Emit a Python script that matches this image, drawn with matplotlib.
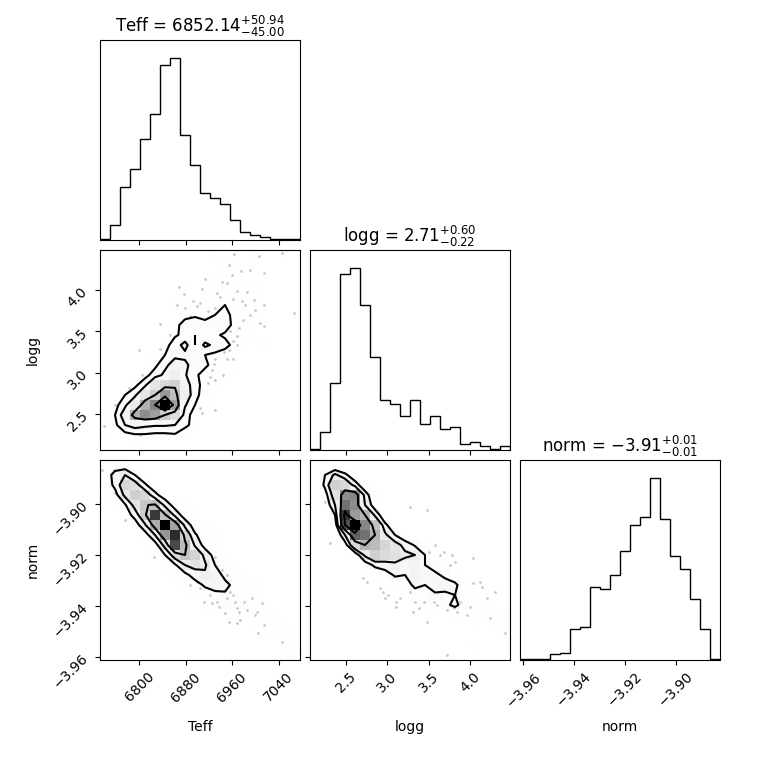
import numpy as np
import matplotlib
matplotlib.use("Agg")
import matplotlib.pyplot as plt
from matplotlib.colors import LinearSegmentedColormap
from matplotlib.ticker import FixedLocator, ScalarFormatter, NullLocator

# ---------------- data ----------------
labels = ["Teff", "logg", "norm"]
ranges = [(6732.6, 7076.7), (2.066, 4.482), (-3.9613, -3.8826)]
medians = ["6852.14", "2.71", "-3.91"]
err_lo = ["45.00", "0.22", "0.01"]
err_hi = ["50.94", "0.60", "0.01"]
ticks = [[6800, 6880, 6960, 7040], [2.5, 3.0, 3.5, 4.0], [-3.96, -3.94, -3.92, -3.90]]

# 1D histograms (20 bins over each range)
teff_hist = [2, 22, 79, 106, 151, 189, 262, 272, 157, 112, 70, 63, 54, 30, 12, 7, 5, 1, 2, 2]
logg_hist = [1, 29, 108, 286, 295, 235, 151, 81, 75, 55, 81, 42, 55, 34, 37, 10, 13, 6, 1, 7]
norm_hist = [1, 1, 1, 7, 9, 38, 41, 90, 87, 104, 134, 165, 175, 223, 173, 128, 111, 75, 38, 1]

# 2D histograms: rows listed from top (highest y bin) to bottom, columns = x bins
teff_logg_grid = [
    [0, 0, 0, 0, 0, 0, 0, 0, 0, 0, 0, 1, 0, 2, 0, 2, 0, 0, 2, 0],
    [0, 0, 0, 0, 0, 0, 0, 0, 0, 0, 0, 0, 0, 1, 0, 0, 0, 0, 0, 0],
    [0, 0, 0, 0, 0, 0, 0, 0, 0, 0, 0, 1, 2, 1, 0, 0, 1, 0, 0, 0],
    [0, 0, 0, 0, 0, 0, 0, 0, 1, 0, 2, 3, 3, 2, 1, 1, 0, 0, 0, 0],
    [0, 0, 0, 0, 0, 0, 0, 0, 0, 0, 2, 2, 2, 2, 1, 1, 0, 0, 0, 0],
    [0, 0, 0, 0, 0, 0, 0, 2, 4, 6, 6, 6, 6, 4, 2, 1, 0, 0, 0, 0],
    [0, 0, 0, 0, 0, 0, 0, 0, 3, 5, 5, 6, 7, 5, 2, 1, 0, 0, 0, 0],
    [0, 0, 0, 0, 0, 0, 0, 3, 10, 10, 7, 9, 9, 4, 2, 0, 1, 0, 0, 0],
    [0, 0, 0, 0, 0, 0, 0, 5, 8, 6, 8, 7, 5, 2, 1, 0, 0, 0, 0, 0],
    [0, 0, 0, 0, 0, 0, 3, 10, 17, 6, 16, 12, 8, 4, 2, 0, 2, 0, 0, 0],
    [0, 0, 0, 0, 0, 2, 6, 12, 12, 9, 6, 4, 3, 1, 0, 0, 0, 0, 0, 0],
    [0, 0, 0, 0, 0, 4, 12, 18, 16, 10, 7, 4, 2, 2, 0, 0, 0, 0, 0, 0],
    [0, 0, 0, 0, 3, 10, 16, 22, 15, 7, 4, 2, 1, 0, 0, 0, 0, 0, 0, 0],
    [0, 0, 0, 4, 12, 28, 35, 38, 20, 8, 4, 2, 0, 0, 0, 0, 0, 0, 0, 0],
    [0, 0, 6, 12, 28, 40, 57, 45, 22, 8, 3, 0, 0, 0, 0, 0, 0, 0, 0, 0],
    [0, 3, 12, 25, 50, 62, 90, 55, 15, 6, 2, 0, 0, 0, 0, 0, 0, 0, 0, 0],
    [0, 6, 20, 50, 60, 55, 40, 32, 10, 2, 0, 0, 0, 0, 0, 0, 0, 0, 0, 0],
    [1, 4, 14, 18, 16, 15, 15, 14, 8, 3, 0, 0, 0, 0, 0, 0, 0, 0, 0, 0],
    [1, 0, 3, 5, 5, 4, 4, 5, 1, 0, 0, 0, 0, 0, 0, 0, 0, 0, 0, 0],
    [0, 0, 0, 1, 0, 0, 0, 0, 0, 0, 0, 0, 0, 0, 0, 0, 0, 0, 0, 0],
]

teff_norm_grid = [
    [1, 3, 2, 0, 0, 0, 0, 0, 0, 0, 0, 0, 0, 0, 0, 0, 0, 0, 0, 0],
    [2, 18, 26, 12, 2, 0, 0, 0, 0, 0, 0, 0, 0, 0, 0, 0, 0, 0, 0, 0],
    [1, 16, 38, 34, 14, 3, 0, 0, 0, 0, 0, 0, 0, 0, 0, 0, 0, 0, 0, 0],
    [0, 6, 30, 42, 38, 16, 4, 0, 0, 0, 0, 0, 0, 0, 0, 0, 0, 0, 0, 0],
    [0, 1, 10, 32, 45, 48, 22, 5, 1, 0, 0, 0, 0, 0, 0, 0, 0, 0, 0, 0],
    [0, 0, 3, 18, 42, 85, 48, 22, 4, 1, 0, 0, 0, 0, 0, 0, 0, 0, 0, 0],
    [0, 0, 0, 4, 24, 55, 97, 58, 22, 4, 1, 0, 0, 0, 0, 0, 0, 0, 0, 0],
    [0, 0, 0, 0, 5, 26, 62, 88, 40, 14, 3, 1, 0, 0, 0, 0, 0, 0, 0, 0],
    [0, 0, 0, 0, 0, 5, 32, 82, 50, 24, 6, 1, 0, 0, 0, 0, 0, 0, 0, 0],
    [0, 0, 0, 0, 0, 2, 12, 35, 46, 40, 22, 6, 1, 0, 0, 0, 0, 0, 0, 0],
    [0, 0, 0, 0, 0, 0, 2, 10, 26, 32, 28, 12, 3, 1, 0, 0, 0, 0, 0, 0],
    [0, 0, 0, 0, 0, 0, 0, 2, 8, 18, 24, 20, 8, 2, 1, 0, 0, 0, 0, 0],
    [0, 0, 0, 0, 0, 0, 0, 0, 2, 6, 14, 18, 16, 8, 2, 1, 0, 0, 0, 0],
    [0, 0, 0, 0, 0, 0, 0, 0, 0, 2, 5, 8, 10, 8, 5, 2, 0, 0, 0, 0],
    [0, 0, 0, 0, 0, 0, 0, 0, 0, 0, 3, 6, 9, 10, 9, 5, 2, 0, 0, 0],
    [0, 0, 0, 0, 0, 0, 0, 0, 0, 0, 0, 0, 0, 1, 3, 3, 2, 1, 0, 0],
    [0, 0, 0, 0, 0, 0, 0, 0, 0, 0, 0, 0, 0, 0, 0, 2, 2, 1, 2, 0],
    [0, 0, 0, 0, 0, 0, 0, 0, 0, 0, 0, 0, 0, 0, 0, 0, 0, 1, 1, 0],
    [0, 0, 0, 0, 0, 0, 0, 0, 0, 0, 0, 0, 0, 0, 0, 0, 0, 0, 1, 0],
    [0, 0, 0, 0, 0, 0, 0, 0, 0, 0, 0, 0, 0, 0, 0, 0, 0, 0, 0, 1],
]

logg_norm_grid = [
    [0, 1, 0, 0, 0, 0, 0, 0, 0, 0, 0, 0, 0, 0, 0, 0, 0, 0, 0, 0],
    [0, 10, 20, 12, 4, 0, 0, 0, 0, 0, 0, 0, 0, 0, 0, 0, 0, 0, 0, 0],
    [0, 12, 30, 28, 14, 4, 0, 0, 0, 0, 0, 0, 0, 0, 0, 0, 0, 0, 0, 0],
    [0, 6, 24, 47, 48, 14, 3, 0, 0, 0, 0, 0, 0, 0, 0, 0, 0, 0, 0, 0],
    [0, 3, 18, 52, 47, 18, 5, 0, 0, 0, 0, 0, 0, 0, 0, 0, 0, 0, 0, 0],
    [0, 0, 10, 62, 44, 38, 16, 3, 0, 0, 0, 0, 0, 0, 0, 0, 0, 0, 0, 0],
    [0, 0, 3, 58, 70, 48, 34, 12, 3, 0, 0, 0, 0, 0, 0, 0, 0, 0, 0, 0],
    [0, 0, 0, 18, 55, 52, 38, 20, 10, 3, 0, 0, 0, 0, 0, 0, 0, 0, 0, 0],
    [0, 0, 0, 6, 28, 38, 36, 28, 22, 15, 9, 3, 0, 0, 0, 0, 0, 0, 0, 0],
    [0, 0, 0, 0, 4, 20, 30, 26, 24, 20, 18, 10, 4, 0, 0, 0, 0, 0, 0, 0],
    [0, 0, 0, 0, 0, 5, 12, 14, 16, 13, 14, 10, 8, 3, 0, 0, 0, 0, 0, 0],
    [0, 0, 0, 0, 0, 0, 3, 6, 11, 10, 14, 12, 11, 9, 4, 0, 0, 0, 0, 0],
    [0, 0, 0, 0, 0, 0, 0, 2, 5, 6, 12, 10, 13, 12, 12, 4, 0, 0, 0, 0],
    [0, 0, 0, 0, 0, 0, 0, 0, 0, 2, 6, 5, 9, 9, 10, 5, 2, 0, 0, 0],
    [0, 0, 0, 0, 0, 0, 0, 0, 0, 0, 3, 3, 6, 8, 12, 6, 6, 2, 0, 0],
    [0, 0, 0, 0, 0, 0, 0, 0, 0, 0, 0, 0, 0, 0, 2, 0, 4, 2, 0, 1],
    [0, 0, 0, 0, 0, 0, 0, 0, 0, 0, 0, 0, 0, 0, 0, 0, 2, 0, 1, 4],
    [0, 0, 0, 0, 0, 0, 0, 0, 0, 0, 0, 0, 0, 0, 0, 0, 0, 0, 0, 1],
    [0, 0, 0, 0, 0, 0, 0, 0, 0, 0, 0, 0, 0, 0, 0, 0, 1, 0, 0, 0],
    [0, 0, 0, 0, 0, 0, 0, 0, 0, 0, 0, 0, 0, 1, 0, 0, 0, 0, 0, 0],
]

# individual samples visible outside the contours
pts_teff_logg_x = [6963, 7006, 7045, 6955, 6975, 7014, 6942, 6951, 6914, 6869, 6908, 6934,
                   6968, 6985, 6997, 6977, 6962, 6939, 6905, 6899, 6865, 6879, 6888, 6919,
                   6931, 6982, 7000, 7014, 7014, 6979, 6971, 6968, 6962, 6954, 6945, 6835,
                   6853, 6836, 6799, 6931, 6928, 6925, 6922, 6931, 6945, 6919, 6905, 6931,
                   6908, 6802, 6836, 6759, 6782, 6805, 6739, 6962, 6951, 7066, 6990,
                   6959, 6940, 6925, 6990, 7008, 6946, 6893, 6957, 6969, 6877]
pts_teff_logg_y = [4.43, 4.41, 4.45, 4.30, 4.23, 4.20, 4.10, 4.08, 4.13, 4.03, 4.01, 3.96,
                   3.99, 3.98, 3.88, 3.86, 3.89, 3.92, 3.84, 3.80, 3.82, 3.78, 3.68, 3.74,
                   3.78, 3.82, 3.76, 3.82, 3.56, 3.64, 3.54, 3.44, 3.38, 3.27, 3.40, 3.59,
                   3.46, 3.29, 3.27, 3.17, 3.11, 3.03, 2.95, 2.91, 2.97, 2.87, 2.57, 2.55,
                   2.51, 2.25, 2.29, 2.61, 2.81, 2.97, 2.35, 3.17, 3.17, 3.72, 4.24,
                   4.18, 3.70, 3.62, 3.70, 3.60, 3.25, 3.87, 3.50, 3.33, 3.95]

pts_teff_norm_x = [6736, 6757, 6759, 6776, 6825, 6917, 6931, 6942, 6945, 6951, 6888, 6899,
                   6911, 6922, 6934, 6937, 6951, 6957, 6962, 6965, 6968, 6971, 6980, 6985,
                   6994, 7003, 7011, 7014, 7000, 6968, 6974, 6954, 7005, 7045, 6925, 6948, 6905]
pts_teff_norm_y = [-3.8865, -3.8865, -3.8957, -3.9062, -3.9206, -3.9200, -3.9206, -3.9259,
                   -3.9285, -3.9279, -3.9318, -3.9305, -3.9384, -3.9357, -3.9384, -3.9403,
                   -3.9370, -3.9344, -3.9357, -3.9384, -3.9410, -3.9423, -3.9384, -3.9416,
                   -3.9370, -3.9423, -3.9390, -3.9475, -3.9436, -3.9469, -3.9456, -3.9462,
                   -3.9508, -3.9541, -3.9390, -3.9429, -3.9331]

pts_logg_norm_x = [2.25, 2.31, 2.71, 2.75, 2.91, 2.95, 2.97, 3.01, 3.11, 3.15, 3.27, 3.27,
                   3.34, 3.38, 3.31, 3.48, 3.44, 3.56, 3.60, 3.72, 3.80, 3.84, 3.88, 3.96,
                   4.00, 4.04, 4.12, 4.14, 4.20, 4.24, 4.30, 4.42, 3.72, 3.11, 3.64, 3.68,
                   3.78, 3.76, 3.82, 3.58, 3.50, 4.04, 3.48]
pts_logg_norm_y = [-3.8990, -3.9154, -3.9292, -3.9305, -3.9331, -3.9344, -3.9370, -3.9357,
                   -3.9384, -3.9370, -3.9010, -3.9344, -3.9384, -3.9410, -3.9423, -3.9462,
                   -3.9384, -3.9384, -3.9397, -3.9416, -3.9410, -3.9423, -3.9384, -3.9436,
                   -3.9403, -3.9311, -3.9305, -3.9325, -3.9370, -3.9449, -3.9344, -3.9508,
                   -3.9594, -3.9403, -3.9200, -3.9187, -3.9200, -3.9239, -3.9226, -3.9161,
                   -3.9187, -3.9213, -3.9023]

# ---------------- plotting ----------------
NBINS = 20
levels = 1.0 - np.exp(-0.5 * np.arange(0.5, 2.1, 0.5) ** 2)
density_cmap = LinearSegmentedColormap.from_list("density_cmap", ["k", (1, 1, 1, 0)])
white_cmap = LinearSegmentedColormap.from_list("white_cmap", [(1, 1, 1), (1, 1, 1)], N=2)


def edges(r):
    return np.linspace(r[0], r[1], NBINS + 1)


def hist2d(ax, grid, xr, yr, px, py):
    H = np.array(grid, dtype=float)[::-1].T  # H[ix, iy]
    X, Y = edges(xr), edges(yr)
    Hflat = H.flatten()
    inds = np.argsort(Hflat)[::-1]
    Hflat = Hflat[inds]
    sm = np.cumsum(Hflat)
    sm /= sm[-1]
    V = np.empty(len(levels))
    for i, v0 in enumerate(levels):
        try:
            V[i] = Hflat[sm <= v0][-1]
        except IndexError:
            V[i] = Hflat[0]
    V.sort()
    m = np.diff(V) == 0
    while np.any(m):
        V[np.where(m)[0][0]] *= 1.0 - 1e-4
        m = np.diff(V) == 0
    V.sort()

    X1, Y1 = 0.5 * (X[1:] + X[:-1]), 0.5 * (Y[1:] + Y[:-1])
    H2 = H.min() + np.zeros((H.shape[0] + 4, H.shape[1] + 4))
    H2[2:-2, 2:-2] = H
    H2[2:-2, 1] = H[:, 0]
    H2[2:-2, -2] = H[:, -1]
    H2[1, 2:-2] = H[0]
    H2[-2, 2:-2] = H[-1]
    H2[1, 1] = H[0, 0]
    H2[1, -2] = H[0, -1]
    H2[-2, 1] = H[-1, 0]
    H2[-2, -2] = H[-1, -1]
    X2 = np.concatenate([X1[0] + np.array([-2, -1]) * np.diff(X1[:2]), X1,
                         X1[-1] + np.array([1, 2]) * np.diff(X1[-2:])])
    Y2 = np.concatenate([Y1[0] + np.array([-2, -1]) * np.diff(Y1[:2]), Y1,
                         Y1[-1] + np.array([1, 2]) * np.diff(Y1[-2:])])

    ax.plot(px, py, "o", color="k", ms=2.0, mec="none", alpha=0.22, zorder=-1, rasterized=True)
    ax.contourf(X2, Y2, H2.T, [V.min(), H.max()], cmap=white_cmap, antialiased=False)
    ax.pcolor(X, Y, H.max() - H.T, cmap=density_cmap)
    ax.contour(X2, Y2, H2.T, V, colors="k", linewidths=1.5)
    ax.set_xlim(xr)
    ax.set_ylim(yr)


fig, axes = plt.subplots(3, 3, figsize=(7.6, 7.6), dpi=100)
lb = 1.0 / 7.6
tr = 7.2 / 7.6
fig.subplots_adjust(left=lb, bottom=lb, right=tr, top=tr, wspace=0.05, hspace=0.05)

hists = [teff_hist, logg_hist, norm_hist]
grids = {(1, 0): (teff_logg_grid, pts_teff_logg_x, pts_teff_logg_y),
         (2, 0): (teff_norm_grid, pts_teff_norm_x, pts_teff_norm_y),
         (2, 1): (logg_norm_grid, pts_logg_norm_x, pts_logg_norm_y)}


def fmt_ticks(axis, vals, show):
    axis.set_major_locator(FixedLocator(vals))
    axis.set_major_formatter(ScalarFormatter(useOffset=False))
    if not show:
        axis.set_ticklabels([])


for i in range(3):
    for j in range(3):
        ax = axes[i, j]
        if j > i:
            ax.set_frame_on(False)
            ax.set_xticks([])
            ax.set_yticks([])
            continue
        if i == j:
            e = edges(ranges[i])
            c = 0.5 * (e[1:] + e[:-1])
            n, _, _ = ax.hist(c, bins=e, weights=hists[i], histtype="step", color="k")
            ax.set_xlim(ranges[i])
            ax.set_ylim(0, 1.1 * np.max(n))
            ax.yaxis.set_major_locator(NullLocator())
            title = "{0} = ${1}_{{-{2}}}^{{+{3}}}$".format(labels[i], medians[i], err_lo[i], err_hi[i])
            ax.set_title(title)
        else:
            grid, px, py = grids[(i, j)]
            hist2d(ax, grid, ranges[j], ranges[i], px, py)
            fmt_ticks(ax.yaxis, ticks[i], j == 0)
            if j == 0:
                for l in ax.get_yticklabels():
                    l.set_rotation(45)
                ax.set_ylabel(labels[i])
                ax.yaxis.set_label_coords(-0.3, 0.5)
        fmt_ticks(ax.xaxis, ticks[j], i == 2)
        if i == 2:
            for l in ax.get_xticklabels():
                l.set_rotation(45)
            ax.set_xlabel(labels[j])
            ax.xaxis.set_label_coords(0.5, -0.3)

fig.savefig("out.png", dpi=100)
